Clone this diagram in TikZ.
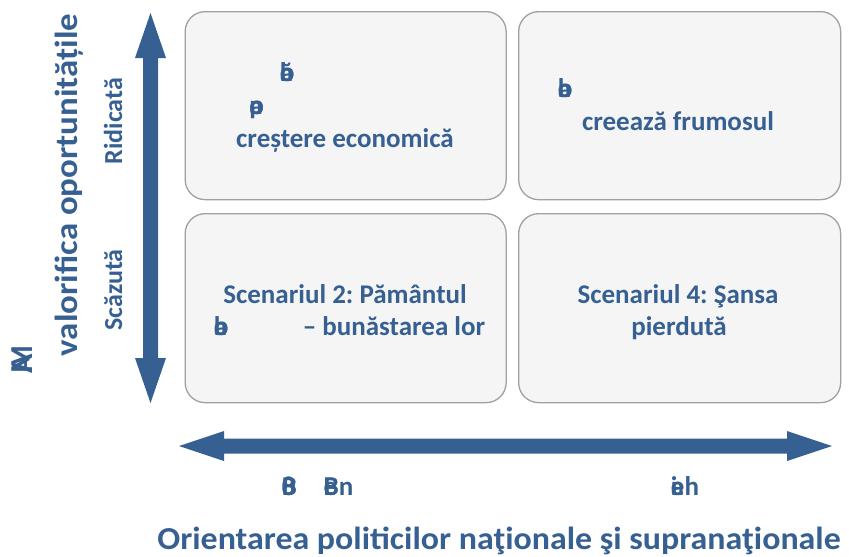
\documentclass[tikz,border=0pt]{standalone}
\usepackage{fontspec}
\usepackage{graphicx}
\setmainfont{Carlito}
\frenchspacing
\definecolor{tb}{HTML}{376092}
\definecolor{boxfill}{HTML}{F5F5F5}
\definecolor{boxline}{HTML}{A0A0A0}
\newcommand{\ovl}[2]{\makebox[0pt][l]{#1}#2}
\tikzset{
  quad/.style={draw=boxline, line width=1.3pt, fill=boxfill, rounded corners=20pt, anchor=north west, inner sep=0pt},
  txt/.style={text=tb, font=\fontsize{27}{32}\selectfont\bfseries, anchor=base, inner sep=0pt},
  axlab/.style={text=tb, font=\fontsize{26}{30}\selectfont\bfseries, anchor=base, inner sep=0pt, rotate=90},
  title/.style={text=tb, font=\fontsize{32}{38}\selectfont\bfseries, anchor=base, inner sep=0pt},
  arr/.style={fill=tb, draw=none}
}
\begin{document}
\begin{tikzpicture}[x=1pt,y=-1pt]
\useasboundingbox (0,0) rectangle (849,557);
% quadrant boxes
\node[quad, minimum width=321pt, minimum height=188pt] (q1) at (184.5,11) {};
\node[quad, minimum width=322pt, minimum height=188pt] (q2) at (518,11) {};
\node[quad, minimum width=321pt, minimum height=189pt] (q3) at (184.5,213) {};
\node[quad, minimum width=322pt, minimum height=189pt] (q4) at (518,213) {};
% box texts
\node[txt] (g1) at (287,81) {\ovl{ă}{\ovl{o}{b}}};
\node[txt] (g2) at (256,114) {\ovl{p}{\ovl{o}{a}}};
\node[txt] (t1) at (345,147) {creștere economică};
\node[txt] (g3) at (565,97) {\ovl{a}{\ovl{o}{b}}};
\node[txt] (t2) at (678,130) {creează frumosul};
\node[txt] (t3) at (345,303) {Scenariul 2: Pământul};
\node[txt] (g4) at (221,335) {\ovl{a}{\ovl{o}{b}}};
\node[txt] (t4) at (394,335) {– bunăstarea lor};
\node[txt] (t5) at (678,303) {Scenariul 4: Şansa};
\node[txt] (t6) at (679,335) {pierdută};
% vertical arrow
\fill[arr] (150.5,13) -- (166,58) -- (158,58) -- (158,358) -- (166,358) -- (150.5,403)
  -- (135,358) -- (143,358) -- (143,58) -- (135,58) -- cycle;
% horizontal arrow
\fill[arr] (179,446) -- (224,431) -- (224,438.5) -- (787,438.5) -- (787,431) -- (832,446)
  -- (787,461) -- (787,453.5) -- (224,453.5) -- (224,461) -- cycle;
% axis labels
\node[axlab] (rid) at (122,121) {Ridicată};
\node[axlab] (sca) at (122,290) {Scăzută};
\node[title, rotate=90] (vt) at (77,185) {\scalebox{1.09}[1]{valorifica oportunitățile}};
\node[title, rotate=90] (gl) at (32,364) {\ovl{M}{A}};
\node[title] (ht) at (499,549) {\scalebox{1.06}[1]{Orientarea politicilor naţionale şi supranaţionale}};
\node[txt] (b1) at (289.5,495) {\ovl{8}{\ovl{0}{B}}};
\node[txt] (b2) at (338.5,495) {\ovl{B}{\ovl{e}{B}}n};
\node[txt] (b3) at (685,495) {\ovl{i}{\ovl{a}{e}}h};
\end{tikzpicture}
\end{document}
